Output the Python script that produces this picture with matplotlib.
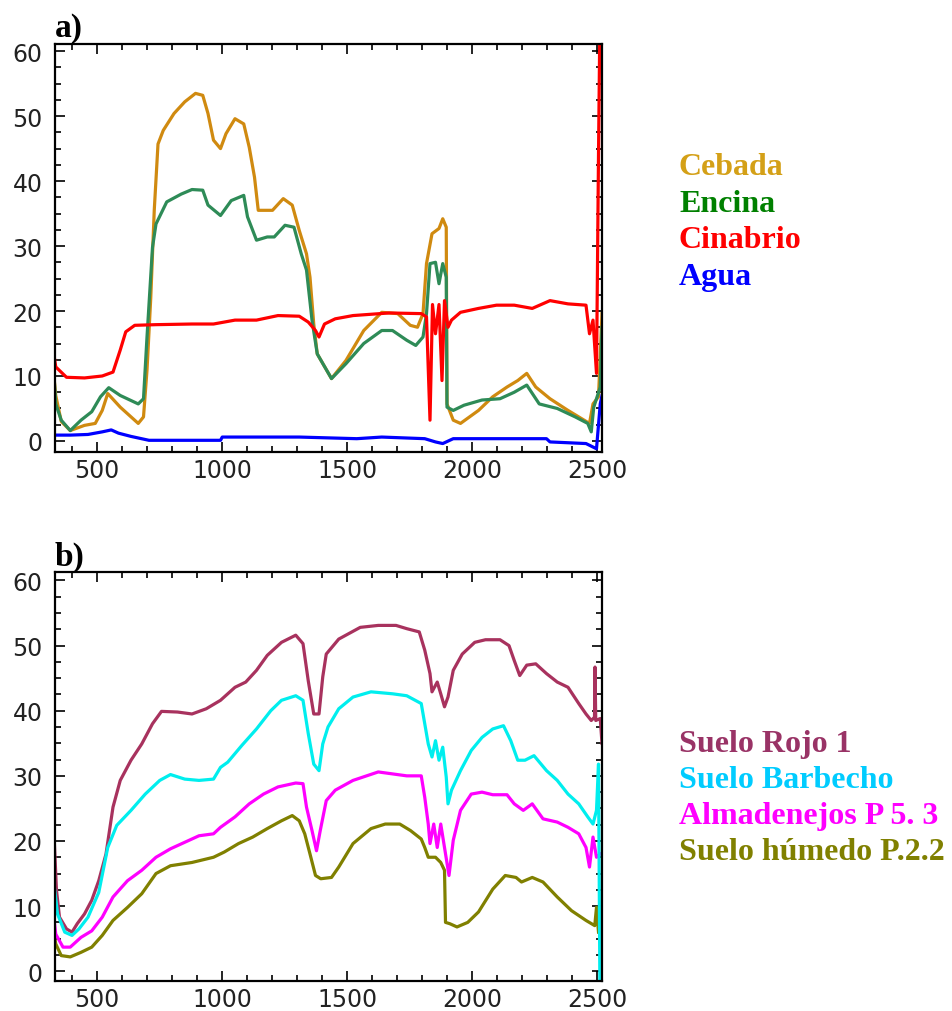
import matplotlib.pyplot as plt
from matplotlib.ticker import MultipleLocator

# ---- panel a) data (wavelength nm, reflectance %) ----
wl_cebada = [325, 335, 357, 393, 450, 493, 521, 543, 593, 665, 686, 700, 715, 729, 744, 765,
             808, 851, 894, 923, 944, 966, 994, 1016, 1052, 1087, 1109, 1130, 1145, 1202,
             1245, 1281, 1309, 1338, 1352, 1367, 1381, 1438, 1496, 1567, 1639, 1703, 1753,
             1782, 1804, 1818, 1840, 1868, 1883, 1897, 1900, 1925, 1954, 2026, 2083, 2140,
             2183, 2219, 2255, 2312, 2384, 2470, 2484, 2506, 2520]
cebada = [11.0, 7.0, 3.0, 1.6, 2.4, 2.7, 4.7, 7.3, 5.2, 2.7, 3.7, 10.9, 22.0, 35.5, 45.7, 47.8,
          50.4, 52.2, 53.5, 53.2, 50.4, 46.3, 45.0, 47.3, 49.6, 48.8, 45.2, 40.6, 35.5, 35.5,
          37.3, 36.3, 32.4, 28.8, 25.2, 18.0, 13.4, 9.6, 12.4, 17.0, 19.8, 19.6, 17.8,
          17.5, 19.6, 27.3, 31.9, 32.7, 34.2, 32.9, 5.7, 3.2, 2.7, 4.7, 6.8, 8.3,
          9.3, 10.4, 8.3, 6.5, 4.7, 2.7, 5.7, 6.8, 19.6]

wl_encina = [324, 335, 357, 393, 436, 479, 514, 547, 593, 665, 686, 700, 722, 736, 779, 837,
             880, 923, 944, 994, 1037, 1087, 1102, 1138, 1181, 1209, 1252, 1288, 1317, 1338,
             1360, 1381, 1438, 1496, 1567, 1639, 1682, 1739, 1775, 1804, 1818, 1832, 1854,
             1868, 1883, 1897, 1900, 1925, 1968, 2040, 2112, 2169, 2219, 2269, 2341, 2413,
             2463, 2477, 2487, 2513, 2520]
encina = [12.4, 5.7, 3.2, 1.6, 3.2, 4.5, 6.8, 8.2, 7.0, 5.7, 6.5, 16.0, 29.8, 33.4, 36.8, 38.0,
          38.7, 38.6, 36.3, 34.7, 37.0, 37.8, 34.5, 30.9, 31.4, 31.4, 33.2, 32.9, 28.8, 26.3,
          18.6, 13.4, 9.6, 11.9, 15.0, 17.0, 17.0, 15.5, 14.7, 16.0, 19.6, 27.3, 27.5,
          24.2, 27.3, 25.2, 5.2, 4.7, 5.5, 6.3, 6.5, 7.5, 8.6, 5.7, 5.0, 3.7,
          2.7, 1.4, 5.2, 8.3, 17.5]

wl_cinabrio = [325, 335, 378, 450, 521, 564, 593, 615, 651, 736, 880, 966, 1052, 1138, 1224,
               1309, 1345, 1374, 1388, 1410, 1453, 1524, 1668, 1797, 1818, 1832, 1842, 1854,
               1868, 1880, 1890, 1904, 1918, 1954, 2026, 2098, 2169, 2241, 2312, 2384, 2456,
               2470, 2484, 2498, 2506, 2513]
cinabrio = [14.0, 11.4, 9.8, 9.7, 10.0, 10.6, 14.0, 16.8, 17.8, 17.9, 18.0, 18.0, 18.6, 18.6, 19.3,
            19.2, 18.3, 17.0, 16.0, 18.0, 18.8, 19.3, 19.7, 19.6, 19.1, 3.2, 21.0, 16.5,
            21.0, 9.3, 21.6, 17.5, 18.6, 19.8, 20.4, 20.9, 20.9, 20.4, 21.6, 21.1, 20.9,
            16.5, 18.6, 10.4, 44.0, 70.0]

wl_agua = [325, 393, 464, 521, 557, 586, 636, 708, 994, 1001, 1309, 1539, 1639, 1811, 1854,
           1883, 1925, 2298, 2312, 2456, 2498, 2513, 2520]
agua = [0.9, 0.9, 1.0, 1.4, 1.7, 1.2, 0.7, 0.1, 0.1, 0.6, 0.6, 0.35, 0.6, 0.35, -0.15,
        -0.4, 0.35, 0.35, -0.15, -0.4, -1.2, 5.7, 7.0]

# ---- panel b) data ----
wl_rojo = [324, 332, 338, 350, 378, 400, 421, 450, 479, 507, 536, 564, 593, 636, 679, 722, 758,
           822, 880, 937, 994, 1052, 1095, 1138, 1181, 1238, 1295, 1324, 1345, 1367, 1388,
           1403, 1417, 1467, 1553, 1625, 1696, 1739, 1789, 1811, 1832, 1840, 1861, 1875,
           1890, 1904, 1925, 1961, 2011, 2054, 2112, 2148, 2169, 2191, 2219, 2255, 2298,
           2341, 2384, 2427, 2456, 2477, 2490, 2492, 2495, 2513, 2520]
rojo = [24.2, 17.5, 12.4, 8.3, 6.5, 6.0, 7.3, 8.8, 10.9, 13.9, 18.0, 25.2, 29.3, 32.4, 34.9, 38.0, 39.9,
        39.8, 39.5, 40.3, 41.6, 43.6, 44.4, 46.2, 48.5, 50.5, 51.6, 50.3, 44.6, 39.5, 39.5,
        45.2, 48.7, 51.0, 52.8, 53.1, 53.1, 52.6, 52.1, 49.3, 45.7, 42.9, 44.4, 42.6,
        40.6, 42.1, 46.2, 48.7, 50.5, 50.9, 50.9, 50.0, 47.7, 45.4, 47.0, 47.2, 45.7,
        44.4, 43.6, 41.1, 39.5, 38.5, 39.0, 46.7, 38.5, 38.8, 35.0]

wl_barbecho = [321, 328, 342, 371, 400, 428, 464, 507, 543, 579, 636, 693, 751, 794, 851, 908,
               966, 994, 1023, 1080, 1138, 1195, 1238, 1295, 1324, 1345, 1367, 1388, 1403, 1424,
               1467, 1524, 1596, 1682, 1739, 1797, 1811, 1825, 1840, 1854, 1868, 1883, 1897,
               1904, 1918, 1954, 1997, 2040, 2083, 2126, 2155, 2183, 2212, 2248, 2298, 2341,
               2384, 2427, 2463, 2484, 2498, 2506, 2512]
barbecho = [17.0, 13.4, 8.8, 6.0, 5.5, 6.5, 8.3, 12.1, 19.0, 22.4, 24.7, 27.2, 29.3, 30.2, 29.5, 29.3,
            29.5, 31.3, 32.1, 34.7, 37.2, 40.0, 41.6, 42.3, 41.6, 36.5, 31.8, 30.8, 34.9, 37.5,
            40.3, 42.1, 42.9, 42.6, 42.3, 41.1, 38.0, 34.9, 32.9, 35.4, 32.4, 34.4, 29.8,
            25.7, 27.8, 30.8, 33.9, 35.9, 37.2, 37.7, 35.4, 32.4, 32.4, 33.1, 30.8, 29.3,
            27.2, 25.7, 23.7, 22.6, 24.7, 31.8, -5.0]

wl_almadenejos = [321, 335, 364, 393, 436, 479, 521, 564, 622, 679, 736, 794, 851, 908, 966, 994,
                  1052, 1109, 1166, 1224, 1295, 1324, 1338, 1360, 1378, 1393, 1417, 1453, 1524,
                  1625, 1682, 1739, 1797, 1811, 1825, 1832, 1847, 1861, 1875, 1890, 1908, 1925,
                  1954, 1997, 2040, 2083, 2140, 2169, 2205, 2241, 2284, 2341, 2384, 2427, 2456,
                  2470, 2484, 2498, 2513]
almadenejos = [10.3, 5.7, 3.7, 3.7, 5.2, 6.2, 8.3, 11.4, 13.9, 15.5, 17.5, 18.8, 19.8, 20.8, 21.1, 22.1,
               23.7, 25.7, 27.2, 28.3, 28.9, 28.8, 25.2, 21.6, 18.5, 21.6, 26.2, 27.8, 29.3,
               30.6, 30.3, 30.0, 30.0, 26.7, 22.6, 19.6, 22.6, 19.0, 22.6, 19.0, 14.7, 20.1,
               24.7, 27.2, 27.5, 27.1, 27.1, 25.7, 24.7, 25.7, 23.4, 22.9, 22.1, 21.1, 19.0,
               16.0, 20.6, 17.5, 18.0]

wl_humedo = [321, 335, 357, 393, 436, 479, 521, 564, 622, 679, 736, 794, 880, 966, 1009, 1066,
             1123, 1181, 1238, 1281, 1309, 1331, 1352, 1374, 1395, 1438, 1467, 1524, 1596, 1653,
             1711, 1754, 1797, 1811, 1825, 1854, 1875, 1890, 1894, 1911, 1940, 1983, 2026,
             2083, 2133, 2176, 2198, 2241, 2284, 2341, 2398, 2456, 2491, 2498, 2506]
humedo = [7.5, 4.2, 2.4, 2.2, 2.9, 3.7, 5.5, 7.8, 9.8, 11.9, 15.0, 16.2, 16.7, 17.5, 18.3, 19.6,
          20.6, 21.9, 23.1, 23.9, 23.1, 21.1, 18.0, 14.7, 14.2, 14.4, 16.0, 19.6, 21.9, 22.6,
          22.6, 21.6, 20.3, 19.0, 17.5, 17.5, 16.7, 15.5, 7.5, 7.3, 6.8, 7.5, 9.1,
          12.6, 14.7, 14.4, 13.7, 14.4, 13.7, 11.4, 9.3, 7.8, 7.0, 9.8, 6.0]

names_a = ['Cebada', 'Encina', 'Cinabrio', 'Agua']
names_b = ['Suelo Rojo 1', 'Suelo Barbecho', 'Almadenejos P 5. 3', 'Suelo húmedo P.2.2']

W, H = 952, 1012
fig = plt.figure(figsize=(W / 100, H / 100), dpi=100)


def frame(top_px, bottom_px, ylim):
    ax = fig.add_axes([55 / W, 1 - bottom_px / H, (602 - 55) / W, (bottom_px - top_px) / H])
    ax.set_xlim(332, 2520)
    ax.set_ylim(*ylim)
    ax.xaxis.set_major_locator(MultipleLocator(500))
    ax.xaxis.set_minor_locator(MultipleLocator(100))
    ax.yaxis.set_major_locator(MultipleLocator(10))
    ax.yaxis.set_minor_locator(MultipleLocator(2.5))
    ax.tick_params(which='both', direction='in', top=True, right=True, width=1.2,
                   labelsize=17, labelcolor='#222222')
    ax.tick_params(which='major', length=7)
    ax.tick_params(which='minor', length=4)
    ax.tick_params(axis='y', pad=9)
    ax.tick_params(axis='x', pad=4)
    for s in ax.spines.values():
        s.set_linewidth(1.6)
    return ax


lw = 2.3

# panel a
ax1 = frame(45, 453, (-1.7, 61.1))
ax1.plot(wl_cebada, cebada, color='#D08A10', lw=lw)
ax1.plot(wl_encina, encina, color='#2E8B57', lw=lw)
ax1.plot(wl_agua, agua, color='#0000FF', lw=lw)
ax1.plot(wl_cinabrio, cinabrio, color='#FF0000', lw=lw)

# panel b
ax2 = frame(573, 982, (-1.5, 61.3))
ax2.plot(wl_rojo, rojo, color='#A8325E', lw=lw)
ax2.plot(wl_humedo, humedo, color='#808000', lw=lw)
ax2.plot(wl_almadenejos, almadenejos, color='#FF00FF', lw=lw)
ax2.plot(wl_barbecho, barbecho, color='#00EEEE', lw=lw)

serif = {'family': 'Liberation Serif', 'weight': 'bold'}
fig.text(55 / W, 1 - 37 / H, 'a)', fontsize=24, va='baseline', ha='left', **serif)
fig.text(55 / W, 1 - 566 / H, 'b)', fontsize=24, va='baseline', ha='left', **serif)

colors_a = ['#D4A017', '#008000', '#FF0000', '#0000FF']
for i, (name, c) in enumerate(zip(names_a, colors_a)):
    fig.text(679 / W, 1 - (175 + 36.7 * i) / H, name, color=c, fontsize=23,
             va='baseline', ha='left', **serif)

colors_b = ['#993366', '#00CCFF', '#FF00FF', '#808000']
for i, (name, c) in enumerate(zip(names_b, colors_b)):
    fig.text(679 / W, 1 - (752 + 36 * i) / H, name, color=c, fontsize=23,
             va='baseline', ha='left', **serif)

fig.savefig('out.png', dpi=100)
